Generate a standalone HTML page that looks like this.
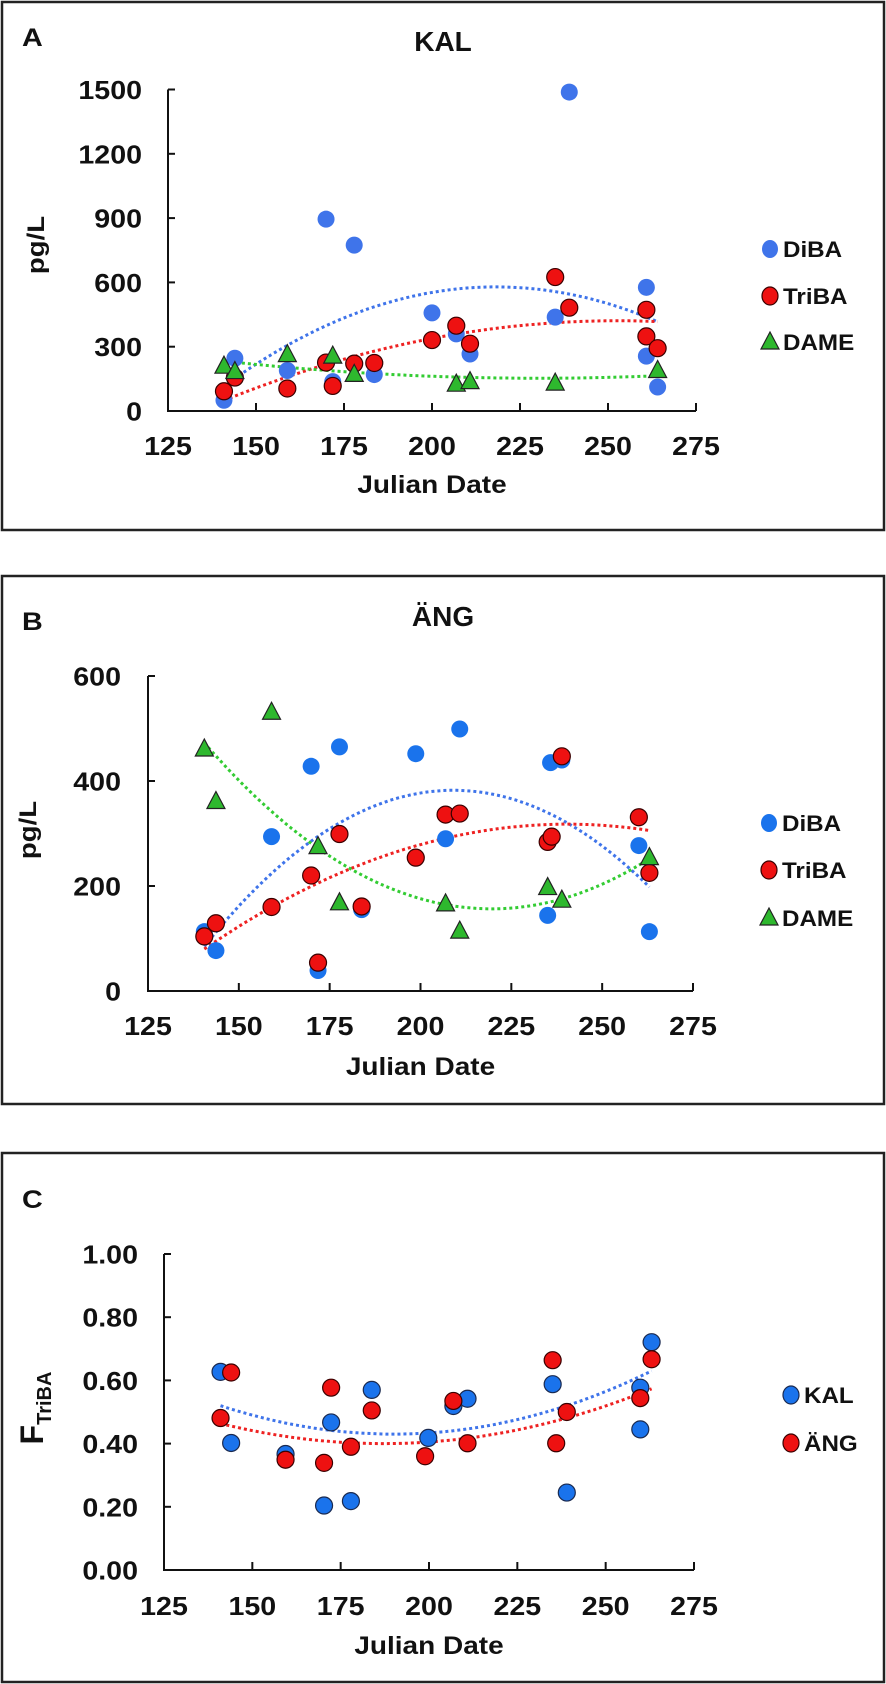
<!DOCTYPE html>
<html><head><meta charset="utf-8">
<style>
html,body{margin:0;padding:0;background:#fff;}
svg{display:block;font-family:"Liberation Sans","Noto Sans CJK SC",sans-serif;}
</style></head>
<body>
<svg id="fig" width="886" height="1684" viewBox="0 0 886 1684" xmlns="http://www.w3.org/2000/svg">
<rect x="2" y="2" width="882" height="528" fill="#fff" stroke="#222" stroke-width="2.5"/>
<rect x="2" y="576" width="882" height="528" fill="#fff" stroke="#222" stroke-width="2.5"/>
<rect x="2" y="1153" width="882" height="529" fill="#fff" stroke="#222" stroke-width="2.5"/>
</svg>
<script>
// ---- Panel A (KAL) data ----
const aDiBAx = [140.9,144,158.9,169.9,171.8,177.9,183.6,200,206.9,210.8,235,239,260.9,260.9,264.1];
const aDiBAy = [50,246,189,895,137,774,170,458,360,266,438,1488,577,256,112];
const aTriBAx = [140.9,144,158.9,169.9,171.8,177.9,183.6,200,206.9,210.8,235,239,260.9,260.9,264.1];
const aTriBAy = [92,156,105,226,117,221,224,331,398,314,625,482,472,348,293];
const aDAMEx = [140.9,144,158.9,171.8,177.9,206.9,210.8,235,264.1];
const aDAMEy = [209,184,263,256,171,125,137,130,189];
const aYTicks = [0,300,600,900,1200,1500];
// ---- Panel B (ÄNG) data ----
const bDiBAx = [140.5,143.7,159,169.9,171.8,177.7,183.8,198.7,206.9,210.8,235,235.8,238.9,260.1,263];
const bDiBAy = [113,77,294,428,39,465,155,452,290,499,144,435,440,277,113];
const bTriBAx = [140.5,143.7,159,169.9,171.8,177.7,183.8,198.7,206.9,210.8,235,236.1,238.9,260.1,263];
const bTriBAy = [104,129,160,220,54,299,161,254,336,338,284,294,447,331,225];
const bDAMEx = [140.5,143.7,159,171.8,177.7,206.9,210.8,235,238.9,263];
const bDAMEy = [461,361,531,275,168,166,114,197,173,254];
const bYTicks = [0,200,400,600];
// ---- Panel C (F TriBA) data ----
const cKALx = [141,144,159.4,170.3,172.3,177.9,183.8,199.8,206.9,210.9,235,239,259.8,259.8,263];
const cKALy = [0.627,0.402,0.367,0.204,0.467,0.218,0.570,0.418,0.519,0.542,0.588,0.245,0.577,0.445,0.721];
const cANGx = [141,144,159.4,170.3,172.3,177.9,183.8,198.9,206.9,210.9,235,236,239,259.8,263];
const cANGy = [0.481,0.625,0.349,0.339,0.577,0.390,0.505,0.360,0.535,0.401,0.664,0.401,0.500,0.544,0.667];
// trendlines of panel C: [vertex x, vertex y, curvature]
const cKALTrend = [190, 0.43, 3.75e-5];
const cANGTrend = [187, 0.40, 3.0e-5];
const cYTicks = [0,0.2,0.4,0.6,0.8,1.0];
const xTicks = [125,150,175,200,225,250,275];

const NS = "http://www.w3.org/2000/svg";
const svg = document.getElementById('fig');
function mk(tag, attrs, parent){
  const e = document.createElementNS(NS, tag);
  for (const k in attrs) e.setAttribute(k, attrs[k]);
  (parent||svg).appendChild(e);
  return e;
}
function txt(x,y,str,size,anchor,weight,sx,name){
  const t = mk('text',{x:0,y:0,'font-size':size,'text-anchor':anchor,'font-weight':weight,fill:'#111',transform:`translate(${x},${y}) scale(${sx},1)`});
  t.textContent = str;
  
  
  return t;
}
function polyfit2(xs, ys){
  const n=xs.length; let S=[0,0,0,0,0], T=[0,0,0];
  for(let i=0;i<n;i++){const x=xs[i]-200;let p=1;for(let k=0;k<5;k++){S[k]+=p;if(k<3)T[k]+=p*ys[i];p*=x;}}
  const M=[[S[0],S[1],S[2],T[0]],[S[1],S[2],S[3],T[1]],[S[2],S[3],S[4],T[2]]];
  for(let i=0;i<3;i++){for(let j=i+1;j<3;j++){const f=M[j][i]/M[i][i];for(let k=i;k<4;k++)M[j][k]-=f*M[i][k];}}
  const c=[0,0,0];
  for(let i=2;i>=0;i--){let s=M[i][3];for(let k=i+1;k<3;k++)s-=M[i][k]*c[k];c[i]=s/M[i][i];}
  return x=>{const d=x-200;return c[0]+c[1]*d+c[2]*d*d;};
}
function vertexFn(t){ return x => t[1] + t[2]*(x-t[0])*(x-t[0]); }

function panel(cfg){
  const sx = d => cfg.x0 + (d-125)*(cfg.x1-cfg.x0)/150;
  const sy = v => cfg.y0 - v*(cfg.y0-cfg.yTop)/cfg.yMax;
  const g = mk('g',{});
  
  
  txt(22, cfg.lblY, cfg.letter, 25, 'start', 'bold', 1.15, cfg.id+'-letter');
  if (cfg.title) txt(443, cfg.titleY, cfg.title, 28, 'middle', 'bold', 1.0, cfg.id+'-title');
  const ax = mk('path',{d:`M${cfg.x0},${sy(cfg.yMax)} L${cfg.x0},${cfg.y0} L${cfg.x1},${cfg.y0}`,fill:'none',stroke:'#111','stroke-width':2},g);
  
  
  cfg.yTicks.forEach(v=>{
    const tk = mk('line',{x1:cfg.x0,x2:cfg.x0+7,y1:sy(v),y2:sy(v),stroke:'#111','stroke-width':2},g);
    
    
    txt(cfg.yLabRight, sy(v)+9.5, cfg.fmt(v), 26, 'end', 'bold', 1.1, cfg.id+'-y-tick-label');
  });
  xTicks.forEach(d=>{
    const tk = mk('line',{x1:sx(d),x2:sx(d),y1:cfg.y0,y2:cfg.y0-8,stroke:'#111','stroke-width':2},g);
    
    
    txt(sx(d), cfg.xLabY, String(d), 26, 'middle', 'bold', 1.1, cfg.id+'-x-tick-label');
  });
  txt((cfg.x0+cfg.x1)/2, cfg.xTitleY, 'Julian Date', 25, 'middle', 'bold', 1.12, cfg.id+'-x-axis-title');
  if (cfg.yTitleSub){
    const t = mk('text',{x:0,y:0,'font-size':32,'font-weight':'bold','text-anchor':'middle',fill:'#111',transform:`translate(${cfg.yTitleX+11},${cfg.yTitleY}) rotate(-90)`});
    
    
    const a = mk('tspan',{},t); a.textContent='F';
    const b = mk('tspan',{'font-size':20,dy:8}, t); b.textContent=cfg.yTitleSub;
  } else {
    const t = mk('text',{x:0,y:0,'font-size':24,'font-weight':'bold','text-anchor':'middle',fill:'#111',transform:`translate(${cfg.yTitleX+9},${cfg.yTitleY}) rotate(-90) scale(1.15,1)`});
    t.textContent = 'pg/L';
    
    
  }
  cfg.series.forEach(s=>{
    const f = s.trendFn ? s.trendFn : polyfit2(s.x, s.y);
    const lo = Math.min(...s.x), hi = Math.max(...s.x);
    let d=''; for(let i=0;i<=60;i++){const x=lo+(hi-lo)*i/60; d+=(i?'L':'M')+sx(x).toFixed(1)+','+sy(f(x)).toFixed(1);}
    const p = mk('path',{d, fill:'none', stroke:s.trend, 'stroke-width':3, 'stroke-dasharray':'3 3'},g);
    
    
  });
  cfg.series.forEach(s=>{
    s.x.forEach((d,i)=>{
      const cx=sx(d), cy=sy(s.y[i]);
      let m;
      if (s.shape==='tri') m = mk('path',{d:`M${cx},${cy-10} L${cx+9},${cy+7} L${cx-9},${cy+7} Z`,fill:s.color,stroke:'#222','stroke-width':1.2},g);
      else m = mk('ellipse',{cx,cy,rx:8.5,ry:8.5,fill:s.color,stroke:s.stroke||'none','stroke-width':1.2},g);
      
      
    });
  });
  cfg.series.forEach((s,k)=>{
    const ly = cfg.legY[k], lx = cfg.legX;
    let m;
    if (s.shape==='tri') m = mk('path',{d:`M${lx},${ly-10} L${lx+9},${ly+7} L${lx-9},${ly+7} Z`,fill:s.color,stroke:'#222','stroke-width':1.2});
    else m = mk('ellipse',{cx:lx,cy:ly,rx:8,ry:9,fill:s.color,stroke:s.stroke||'none','stroke-width':1.2});
    
    
    txt(lx+13, ly+8, s.label, 22, 'start', 'bold', 1.1, cfg.id+'-legend-'+s.name);
  });
}

panel({id:'panel-a', letter:'A', lblY:46, title:'KAL', titleY:51, x0:168, x1:696, y0:411, yTop:89.5, yMax:1500,
  yTicks:aYTicks, fmt:v=>String(v), yLabRight:142, xLabY:455, xTitleY:493, yTitleX:35, yTitleY:245,
  legX:770, legY:[249,296,342],
  series:[
    {name:'diba', label:'DiBA', x:aDiBAx, y:aDiBAy, color:'#3f74ea', trend:'#3f74ea', shape:'c'},
    {name:'triba', label:'TriBA', x:aTriBAx, y:aTriBAy, color:'#ee1111', stroke:'#3a0000', trend:'#ee2222', shape:'c'},
    {name:'dame', label:'DAME', x:aDAMEx, y:aDAMEy, color:'#2eb82e', trend:'#33cc33', shape:'tri'}]});

panel({id:'panel-b', letter:'B', lblY:630, title:'ÄNG', titleY:626, x0:148, x1:693, y0:991, yTop:676, yMax:600,
  yTicks:bYTicks, fmt:v=>String(v), yLabRight:121, xLabY:1035, xTitleY:1075, yTitleX:27, yTitleY:830,
  legX:769, legY:[823,870,918],
  series:[
    {name:'diba', label:'DiBA', x:bDiBAx, y:bDiBAy, color:'#1a73ec', trend:'#3f74ea', shape:'c'},
    {name:'triba', label:'TriBA', x:bTriBAx, y:bTriBAy, color:'#ee1111', stroke:'#3a0000', trend:'#ee2222', shape:'c'},
    {name:'dame', label:'DAME', x:bDAMEx, y:bDAMEy, color:'#2eb82e', trend:'#33cc33', shape:'tri'}]});

panel({id:'panel-c', letter:'C', lblY:1208, title:null, x0:164, x1:694, y0:1570, yTop:1254, yMax:1,
  yTicks:cYTicks, fmt:v=>v.toFixed(2), yLabRight:138, xLabY:1615, xTitleY:1654, yTitleX:32, yTitleY:1408, yTitleSub:'TriBA',
  legX:791, legY:[1395,1443],
  series:[
    {name:'kal', label:'KAL', x:cKALx, y:cKALy, color:'#1a73ec', stroke:'#1a2a50', trend:'#3f74ea', shape:'c', trendFn:vertexFn(cKALTrend)},
    {name:'ang', label:'ÄNG', x:cANGx, y:cANGy, color:'#ee1111', stroke:'#3a0000', trend:'#ee2222', shape:'c', trendFn:vertexFn(cANGTrend)}]});
</script>
</body></html>
